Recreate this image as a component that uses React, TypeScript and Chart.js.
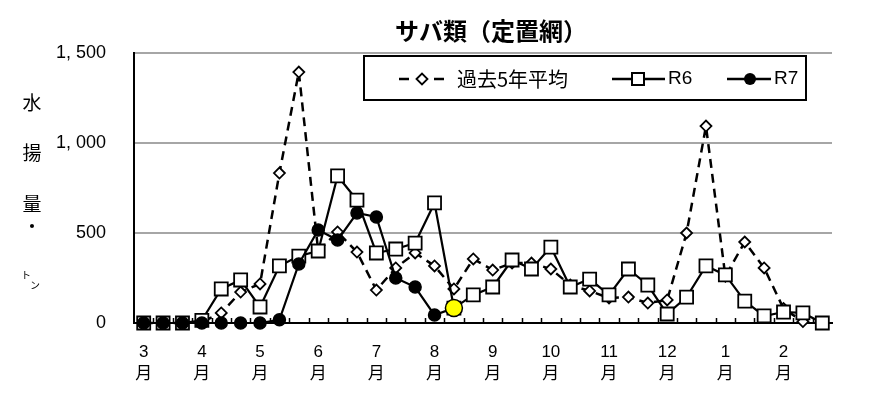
import React, { useEffect, useRef } from 'react';
import { Chart, registerables } from 'chart.js';

Chart.register(...registerables);

// ---- data ----
const monthNames = ['3', '4', '5', '6', '7', '8', '9', '10', '11', '12', '1', '2'];
const periodsPerMonth = 3; // 上旬・中旬・下旬
const seriesNames = ['過去5年平均', 'R6', 'R7'];
const avg5: (number | null)[] = [
  0, 0, 0, 5, 56, 172, 217, 833, 1394, 400, 506, 394,
  183, 306, 389, 317, 189, 356, 294, 333, 333, 300, 211, 178,
  139, 144, 111, 128, 500, 1094, 260, 450, 306, 80, 8, 0,
];
const r6: (number | null)[] = [
  0, 0, 0, 15, 189, 239, 89, 317, 372, 400, 817, 683,
  389, 411, 444, 667, 83, 156, 200, 350, 300, 422, 200, 244,
  156, 300, 211, 50, 144, 317, 267, 122, 39, 61, 56, 0,
];
const r7: (number | null)[] = [
  0, 0, 0, 0, 0, 0, 0, 18, 328, 517, 461, 611,
  589, 250, 200, 44, 83, null, null, null, null, null, null, null,
  null, null, null, null, null, null, null, null, null, null, null, null,
];
const yTickValues = [0, 500, 1000, 1500];
const yTickLabels = ['0', '500', '1, 000', '1, 500'];
const chartTitle = 'サバ類（定置網）';
const yTitleChars = ['水', '揚', '量', '・'];
const yUnitChars = ['ト', 'ン'];

const JP = "'Noto Sans CJK JP', sans-serif";
const NUM = "'Liberation Sans Narrow', 'Liberation Sans', 'Noto Sans CJK JP', sans-serif";

const categories: (string | string[])[] = [];
monthNames.forEach((m) => {
  for (let k = 0; k < periodsPerMonth; k++) categories.push(k === 0 ? [m, '月'] : '');
});

const lastR7 = (() => {
  let idx = -1;
  r7.forEach((v, i) => { if (v !== null) idx = i; });
  return idx;
})();

function drawDiamond(ctx: CanvasRenderingContext2D, x: number, y: number, r: number) {
  ctx.beginPath();
  ctx.moveTo(x - r, y);
  ctx.lineTo(x, y - r);
  ctx.lineTo(x + r, y);
  ctx.lineTo(x, y + r);
  ctx.closePath();
  ctx.fill();
  ctx.stroke();
}

const decorPlugin = {
  id: 'decor',
  beforeDatasetsDraw(chart: any) {
    const ctx: CanvasRenderingContext2D = chart.ctx;
    const area = chart.chartArea;
    const xs = chart.scales.x;
    ctx.save();
    // inner tick marks on x axis at category boundaries
    ctx.strokeStyle = '#000';
    ctx.lineWidth = 1.5;
    ctx.beginPath();
    for (let i = 1; i < categories.length; i++) {
      const x = (xs.getPixelForValue(i - 1) + xs.getPixelForValue(i)) / 2;
      ctx.moveTo(Math.round(x) + 0.5, area.bottom);
      ctx.lineTo(Math.round(x) + 0.5, area.bottom - 5);
    }
    ctx.stroke();
    ctx.restore();
  },
  afterDraw(chart: any) {
    const ctx: CanvasRenderingContext2D = chart.ctx;
    ctx.save();

    // title
    ctx.fillStyle = '#000';
    ctx.font = `bold 24px ${JP}`;
    ctx.textAlign = 'center';
    ctx.textBaseline = 'middle';
    ctx.fillText(chartTitle, 491, 31);

    // y axis title (vertical)
    ctx.font = `19px ${JP}`;
    const ys = [103, 153, 204, 227];
    yTitleChars.forEach((c, i) => ctx.fillText(c, 32, ys[i]));
    ctx.font = `10px ${JP}`;
    ctx.fillText(yUnitChars[0], 26, 275);
    ctx.fillText(yUnitChars[1], 35, 285);

    // legend box
    const bx = 364, by = 56, bw = 442, bh = 44;
    ctx.fillStyle = '#fff';
    ctx.fillRect(bx, by, bw, bh);
    ctx.strokeStyle = '#000';
    ctx.lineWidth = 2;
    ctx.strokeRect(bx, by, bw, bh);
    const cy = 79;
    ctx.textAlign = 'left';
    ctx.textBaseline = 'middle';

    // item 1
    ctx.lineWidth = 2.5;
    ctx.beginPath();
    ctx.moveTo(399, cy); ctx.lineTo(409, cy);
    ctx.moveTo(434, cy); ctx.lineTo(444, cy);
    ctx.stroke();
    ctx.fillStyle = '#fff';
    ctx.lineWidth = 1.8;
    drawDiamond(ctx, 422, cy, 5.5);
    ctx.fillStyle = '#000';
    ctx.font = `20px ${JP}`;
    ctx.fillText(seriesNames[0], 457, cy);

    ctx.font = `19px ${NUM}`;
    // item 2
    ctx.lineWidth = 2.5;
    ctx.beginPath();
    ctx.moveTo(612, cy); ctx.lineTo(665, cy);
    ctx.stroke();
    ctx.fillStyle = '#fff';
    ctx.lineWidth = 2;
    ctx.fillRect(632, cy - 6, 12, 12);
    ctx.strokeRect(632, cy - 6, 12, 12);
    ctx.fillStyle = '#000';
    ctx.fillText(seriesNames[1], 668, cy);

    // item 3
    ctx.lineWidth = 2.5;
    ctx.beginPath();
    ctx.moveTo(727, cy); ctx.lineTo(771, cy);
    ctx.stroke();
    ctx.beginPath();
    ctx.arc(750, cy, 6, 0, Math.PI * 2);
    ctx.fill();
    ctx.fillText(seriesNames[2], 774, cy);

    ctx.restore();
  },
};

export default function App() {
  const ref = useRef<HTMLCanvasElement>(null);
  useEffect(() => {
    if (!ref.current) return;
    const chart = new Chart(ref.current, {
      type: 'line',
      data: {
        labels: categories,
        datasets: [
          {
            label: seriesNames[2],
            data: r7,
            order: 0,
            clip: false,
            borderColor: '#000',
            borderWidth: 2.2,
            pointStyle: 'circle',
            pointRadius: r7.map((_, i) => (i === lastR7 ? 8.5 : 6)),
            pointBackgroundColor: r7.map((_, i) => (i === lastR7 ? '#ffff00' : '#000')),
            pointBorderColor: '#000',
            pointBorderWidth: 1.5,
            spanGaps: false,
          },
          {
            label: seriesNames[1],
            data: r6,
            order: 1,
            clip: false,
            borderColor: '#000',
            borderWidth: 2.2,
            pointStyle: 'rect',
            pointRadius: 9.2,
            pointBackgroundColor: '#fff',
            pointBorderColor: '#000',
            pointBorderWidth: 1.8,
          },
          {
            label: seriesNames[0],
            data: avg5,
            order: 2,
            clip: false,
            borderColor: '#000',
            borderWidth: 2.5,
            borderDash: [9, 6],
            pointStyle: 'rectRot',
            pointRadius: 5.5,
            pointBackgroundColor: '#fff',
            pointBorderColor: '#000',
            pointBorderWidth: 1.8,
          },
        ],
      },
      options: {
        responsive: false,
        animation: false,
        devicePixelRatio: 1,
        layout: { padding: { top: 53, right: 43, left: 0, bottom: 0 } },
        plugins: { legend: { display: false }, title: { display: false }, tooltip: { enabled: false } },
        scales: {
          x: {
            type: 'category',
            offset: true,
            grid: { display: false, drawTicks: false },
            border: { display: true, color: '#000', width: 2 },
            ticks: {
              autoSkip: false,
              maxRotation: 0,
              padding: 18,
              color: '#000',
              font: { size: 17, family: NUM, lineHeight: 1.3 },
            },
            afterFit: (s: any) => { s.height = 72; },
          },
          y: {
            min: 0,
            max: 1500,
            afterBuildTicks: (s: any) => { s.ticks = yTickValues.map((v) => ({ value: v })); },
            grid: {
              drawTicks: false,
              color: (c: any) => (c.tick && c.tick.value === 0 ? 'rgba(0,0,0,0)' : '#a6a6a6'),
              lineWidth: 2,
            },
            border: { display: true, color: '#000', width: 2 },
            ticks: {
              padding: 28,
              color: '#000',
              font: { size: 18, family: NUM },
              callback: (v: any) => yTickLabels[yTickValues.indexOf(Number(v))] ?? '',
            },
            afterFit: (s: any) => { s.width = 134; },
          },
        },
      },
      plugins: [decorPlugin],
    });
    return () => chart.destroy();
  }, []);
  return (
    <div style={{ position: 'fixed', left: 0, top: 0, width: 875, height: 395, background: '#fff' }}>
      <canvas ref={ref} width={875} height={395} />
    </div>
  );
}
